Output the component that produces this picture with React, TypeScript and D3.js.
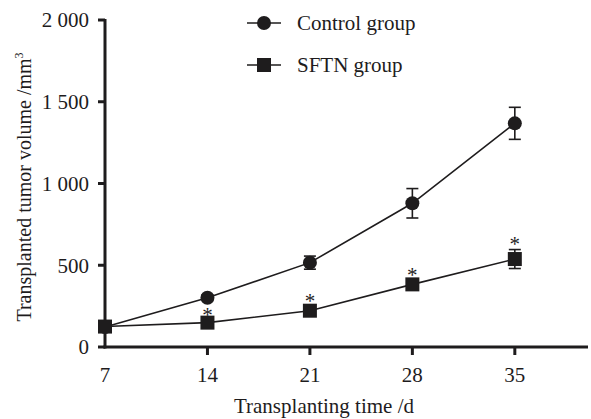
import * as d3 from "d3";

const days = [7, 14, 21, 28, 35];
const controlMean = [122, 301, 516, 879, 1368];
const controlErr = [10, 18, 40, 90, 98];
const sftnMean = [125, 149, 222, 383, 538];
const sftnErr = [8, 12, 20, 22, 58];
const starDays = [14, 21, 28, 35];
const yTicks = [0, 500, 1000, 1500, 2000];
const yTickLabels = ["0", "500", "1 000", "1 500", "2 000"];

const W = 591;
const H = 419;
const ink = "#1e1c1d";
const font = "'Liberation Serif', 'Times New Roman', serif";
const fs = 21;

function App() {
  const x = d3.scaleLinear().domain([7, 40]).range([105, 588]);
  const y = d3.scaleLinear().domain([0, 2000]).range([347, 20]);
  const line = d3
    .line<number>()
    .x((_, i) => x(days[i]))
    .y((d) => y(d));

  const series = [
    { name: "Control group", mean: controlMean, err: controlErr, shape: "circle" },
    { name: "SFTN group", mean: sftnMean, err: sftnErr, shape: "square" },
  ];

  const marker = (shape: string, cx: number, cy: number, key: string) =>
    shape === "circle" ? (
      <circle key={key} cx={cx} cy={cy} r={7} fill={ink} />
    ) : (
      <rect key={key} x={cx - 7} y={cy - 7} width={14} height={14} fill={ink} />
    );

  const txt = { fontFamily: font, fontSize: fs, fill: ink };

  return (
    <svg width={W} height={H} style={{ position: "absolute", left: 0, top: 0 }}>
      <rect width={W} height={H} fill="#fff" />

      {/* y axis */}
      <line x1={x(7)} x2={x(7)} y1={y(2000) - 1} y2={y(0) + 1.5} stroke={ink} strokeWidth={3} />
      {yTicks.map((t, i) => (
        <g key={t}>
          <line x1={x(7) - 7} x2={x(7)} y1={y(t)} y2={y(t)} stroke={ink} strokeWidth={3} />
          <text x={89} y={y(t)} dy="0.35em" textAnchor="end" style={txt}>
            {yTickLabels[i]}
          </text>
        </g>
      ))}

      {/* x axis */}
      <line x1={x(7) - 1.5} x2={x(40)} y1={y(0)} y2={y(0)} stroke={ink} strokeWidth={3} />
      {days.map((d) => (
        <g key={d}>
          {d !== 7 && (
            <line x1={x(d)} x2={x(d)} y1={y(0)} y2={y(0) + 8} stroke={ink} strokeWidth={3} />
          )}
          <text x={x(d)} y={382} textAnchor="middle" style={txt}>
            {d}
          </text>
        </g>
      ))}
      <text x={324} y={413} textAnchor="middle" style={txt}>
        Transplanting time /d
      </text>
      <text transform={`translate(31, ${187}) rotate(-90)`} textAnchor="middle" style={{ ...txt, fontSize: 20 }}>
        Transplanted tumor volume /mm
        <tspan dy="-8" style={{ fontSize: 12 }}>3</tspan>
      </text>

      {/* series */}
      {series.map((s) => (
        <g key={s.name}>
          <path d={line(s.mean) ?? ""} fill="none" stroke={ink} strokeWidth={1.6} />
          {s.mean.map((m, i) => {
            const cx = x(days[i]);
            const top = y(m + s.err[i]);
            const bot = y(m - s.err[i]);
            return (
              <g key={i}>
                <line x1={cx} x2={cx} y1={top} y2={bot} stroke={ink} strokeWidth={1.6} />
                <line x1={cx - 6} x2={cx + 6} y1={top} y2={top} stroke={ink} strokeWidth={1.6} />
                <line x1={cx - 6} x2={cx + 6} y1={bot} y2={bot} stroke={ink} strokeWidth={1.6} />
                {marker(s.shape, cx, y(m), "m")}
              </g>
            );
          })}
        </g>
      ))}

      {/* significance marks */}
      {starDays.map((d) => {
        const i = days.indexOf(d);
        return (
          <text key={d} x={x(d)} y={y(sftnMean[i] + sftnErr[i]) + 1} textAnchor="middle" style={txt}>
            *
          </text>
        );
      })}

      {/* legend */}
      {series.map((s, i) => {
        const ly = 23 + i * 42;
        return (
          <g key={s.name}>
            <line x1={247} x2={281} y1={ly} y2={ly} stroke={ink} strokeWidth={1.6} />
            {marker(s.shape, 264, ly, "lm")}
            <text x={297} y={ly} dy="0.35em" style={txt}>
              {s.name}
            </text>
          </g>
        );
      })}
    </svg>
  );
}

export default App;
